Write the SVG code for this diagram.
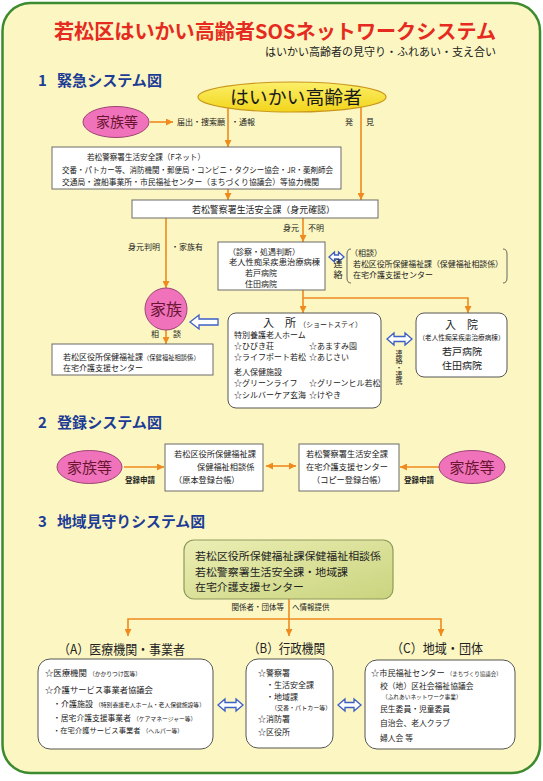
<svg xmlns="http://www.w3.org/2000/svg" width="543" height="781" viewBox="0 0 543 781">
<style>
.t{font-family:"Noto Sans CJK JP","Noto Sans CJK SC",sans-serif;fill:#222}
.box{fill:#fff;stroke:#6a6a6a;stroke-width:1}
.rbox{fill:#fff;stroke:#555;stroke-width:1}
.ol{stroke:#ee8a1e;stroke-width:1.6;fill:none}
.pink{fill:#ef72bb;stroke:#9c4574;stroke-width:1}
.pt{font-family:"Noto Sans CJK JP",sans-serif;fill:#6a1530}
.barrow{fill:#fff;stroke:#3d5fc6;stroke-width:1.3}
.hd{font-family:"Noto Sans CJK JP",sans-serif;fill:#1c3c96;font-weight:bold;font-size:15px}
.sm{font-size:5.8px}
.vt{writing-mode:vertical-rl}
</style>
<defs>
<marker id="ah" viewBox="0 0 7 7" refX="7" refY="3.5" markerWidth="7" markerHeight="7" markerUnits="userSpaceOnUse" orient="auto-start-reverse"><path d="M0,0 L7,3.5 L0,7 z" fill="#ee8a1e"/></marker>
<linearGradient id="yel" x1="0" y1="0" x2="0" y2="1"><stop offset="0" stop-color="#fbf06a"/><stop offset="1" stop-color="#f2d41a"/></linearGradient>
<linearGradient id="grn" x1="0" y1="0" x2="1" y2="1"><stop offset="0" stop-color="#eceeb4"/><stop offset="1" stop-color="#c9d47e"/></linearGradient>
</defs>
<rect width="543" height="781" fill="#fff"/>
<rect x="2.5" y="3" width="537.5" height="770" rx="28" fill="#fcf7c2" stroke="#3d8b2f" stroke-width="2.5"/>

<g id="title">
<text class="t" x="54" y="38.5" font-size="20" font-weight="bold" style="fill:#e52b1f" textLength="442" lengthAdjust="spacingAndGlyphs">若松区はいかい高齢者SOSネットワークシステム</text>
<text class="t" x="265" y="56" font-size="11" textLength="231" lengthAdjust="spacingAndGlyphs">はいかい高齢者の見守り・ふれあい・支え合い</text>
</g>

<g id="sec1-head"><text class="hd" x="38" y="86">1</text><text class="hd" x="57" y="86" textLength="105" lengthAdjust="spacingAndGlyphs">緊急システム図</text></g>
<g id="sec2-head"><text class="hd" x="38" y="428">2</text><text class="hd" x="57" y="428" textLength="105" lengthAdjust="spacingAndGlyphs">登録システム図</text></g>
<g id="sec3-head"><text class="hd" x="38" y="527">3</text><text class="hd" x="57" y="527" textLength="148" lengthAdjust="spacingAndGlyphs">地域見守りシステム図</text></g>

<g id="connectors">
<line class="ol" x1="150" y1="122" x2="173" y2="122" marker-end="url(#ah)"/>
<line class="ol" x1="228" y1="108" x2="228" y2="147" marker-end="url(#ah)"/>
<line class="ol" x1="361" y1="107" x2="361" y2="200" marker-end="url(#ah)"/>
<line class="ol" x1="228" y1="189" x2="228" y2="200" marker-end="url(#ah)"/>
<line class="ol" x1="166" y1="218" x2="166" y2="288" marker-end="url(#ah)"/>
<line class="ol" x1="303" y1="218" x2="303" y2="242" marker-end="url(#ah)"/>
<line class="ol" x1="303" y1="290" x2="303" y2="313" marker-end="url(#ah)"/>
<polyline class="ol" points="303,298 468,298 468,313" marker-end="url(#ah)"/>
<line class="ol" x1="166" y1="330" x2="166" y2="344" marker-end="url(#ah)"/>
<line class="ol" x1="124" y1="467" x2="164" y2="467" marker-end="url(#ah)"/>
<line class="ol" x1="439" y1="467" x2="400" y2="467" marker-end="url(#ah)"/>
<line class="ol" x1="266" y1="466" x2="296" y2="466" marker-start="url(#ah)" marker-end="url(#ah)"/>
<line class="ol" x1="289" y1="599" x2="289" y2="636" marker-end="url(#ah)"/>
<polyline class="ol" points="128,636 128,619 441,619 441,636" marker-start="url(#ah)" marker-end="url(#ah)"/>
<path class="barrow" d="M329,257 L334.5,252 L334.5,255 L338.5,255 L338.5,252 L344,257 L338.5,262 L338.5,259 L334.5,259 L334.5,262 Z"/>
<path class="barrow" d="M190,322 L199,315 L199,319 L218,319 L218,325 L199,325 L199,329 Z"/>
<path class="barrow" d="M387,339 L394,333 L394,336.5 L405,336.5 L405,333 L412,339 L405,345 L405,341.5 L394,341.5 L394,345 Z"/>
<path class="barrow" d="M218,705 L225,699 L225,702.5 L236,702.5 L236,699 L243,705 L236,711 L236,707.5 L225,707.5 L225,711 Z"/>
<path class="barrow" d="M338,705 L345,699 L345,702.5 L354,702.5 L354,699 L361,705 L354,711 L354,707.5 L345,707.5 L345,711 Z"/>
</g>

<g id="elderly">
<ellipse cx="292" cy="97" rx="94" ry="15" fill="url(#yel)" stroke="#c9961e" stroke-width="1.2"/>
<text class="t" x="230" y="104" font-size="18.5" textLength="132" lengthAdjust="spacingAndGlyphs" style="fill:#1a1a1a">はいかい高齢者</text>
</g>
<g id="family1">
<ellipse class="pink" cx="116" cy="122" rx="33" ry="15.5"/>
<text class="pt" x="117" y="127" font-size="14" text-anchor="middle">家族等</text>
</g>
<g id="labels1">
<text class="t" x="177" y="125" font-size="8">届出・捜索願</text>
<text class="t" x="231" y="125" font-size="8">・通報</text>
<text class="t" x="345" y="125" font-size="8">発</text>
<text class="t" x="366" y="125" font-size="8">見</text>
<text class="t" x="128" y="250" font-size="8">身元判明</text>
<text class="t" x="171" y="250" font-size="8">・家族有</text>
<text class="t" x="283" y="231" font-size="8">身元</text>
<text class="t" x="308" y="231" font-size="8">不明</text>
<text class="t" x="155" y="337" font-size="8" text-anchor="middle">相</text>
<text class="t" x="177" y="337" font-size="8" text-anchor="middle">談</text>
<text class="t vt" x="338" y="259" font-size="9" letter-spacing="2">連絡</text>
<text class="t vt" x="399" y="350" font-size="7">連絡・連携</text>
</g>
<g id="fnet">
<rect class="box" x="52" y="147" width="289" height="42"/>
<text class="t" x="87" y="160" font-size="8" textLength="118" lengthAdjust="spacingAndGlyphs">若松警察署生活安全課（Fネット）</text>
<text class="t" x="62" y="173" font-size="8" textLength="271" lengthAdjust="spacingAndGlyphs">交番・パトカー等、消防機関・郵便局・コンビニ・タクシー協会・JR・薬剤師会</text>
<text class="t" x="62" y="184.5" font-size="8" textLength="257" lengthAdjust="spacingAndGlyphs">交通局・渡船事業所・市民福祉センター（まちづくり協議会）等協力機関</text>
</g>
<g id="police-id">
<rect class="box" x="132" y="200" width="246" height="18"/>
<text class="t" x="192" y="213" font-size="9" textLength="143" lengthAdjust="spacingAndGlyphs">若松警察署生活安全課（身元確認）</text>
</g>
<g id="hospital-judge">
<rect class="box" x="218" y="242" width="107" height="48"/>
<text class="t" x="228" y="254.5" font-size="8">（診察・処遇判断）</text>
<text class="t" x="229" y="265" font-size="8.3" textLength="91" lengthAdjust="spacingAndGlyphs">老人性痴呆疾患治療病棟</text>
<text class="t" x="245" y="275.5" font-size="8">若戸病院</text>
<text class="t" x="245" y="287" font-size="8">住田病院</text>
</g>
<g id="consult">
<path d="M351,249 Q347,249 347,254 L347,278 Q347,283 351,283" fill="none" stroke="#555" stroke-width="0.9"/>
<path d="M503,249 Q507,249 507,254 L507,278 Q507,283 503,283" fill="none" stroke="#555" stroke-width="0.9"/>
<text class="t" x="350" y="256" font-size="8">（相談）</text>
<text class="t" x="353" y="267" font-size="8" textLength="150" lengthAdjust="spacingAndGlyphs">若松区役所保健福祉課（保健福祉相談係）</text>
<text class="t" x="353" y="278" font-size="8">在宅介護支援センター</text>
</g>
<g id="family2">
<circle class="pink" cx="166" cy="309" r="21"/>
<text class="pt" x="166" y="315" font-size="16" text-anchor="middle">家族</text>
</g>
<g id="ward-office1">
<rect class="box" x="52" y="344" width="161" height="31"/>
<text class="t" x="63" y="360" font-size="8">若松区役所保健福祉課<tspan font-size="6.3">（保健福祉相談係）</tspan></text>
<text class="t" x="63" y="371" font-size="8">在宅介護支援センター</text>
</g>
<g id="shortstay">
<rect class="rbox" x="228" y="313" width="153" height="95" rx="8"/>
<text class="t" x="263" y="327" font-size="11">入　所<tspan font-size="7" dx="3">（ショートステイ）</tspan></text>
<text class="t" x="234" y="337.5" font-size="8">特別養護老人ホーム</text>
<text class="t" x="234" y="348.5" font-size="8">☆ひびき荘</text>
<text class="t" x="309" y="348.5" font-size="8">☆あますみ園</text>
<text class="t" x="234" y="359.5" font-size="8">☆ライフポート若松</text>
<text class="t" x="309" y="359.5" font-size="8">☆あじさい</text>
<text class="t" x="234" y="375" font-size="8">老人保健施設</text>
<text class="t" x="234" y="385.5" font-size="8">☆グリーンライフ</text>
<text class="t" x="309" y="385.5" font-size="8">☆グリーンヒル若松</text>
<text class="t" x="234" y="398" font-size="8">☆シルバーケア玄海</text>
<text class="t" x="309" y="398" font-size="8">☆けやき</text>
</g>
<g id="hospital">
<rect class="rbox" x="416" y="313" width="91" height="64" rx="8"/>
<text class="t" x="461.5" y="329" font-size="11" text-anchor="middle">入　院</text>
<text class="t" x="461.5" y="339.5" font-size="6.5" text-anchor="middle" textLength="86" lengthAdjust="spacingAndGlyphs">（老人性痴呆疾患治療病棟）</text>
<text class="t" x="462" y="354.5" font-size="9.5" text-anchor="middle" textLength="40" lengthAdjust="spacingAndGlyphs">若戸病院</text>
<text class="t" x="462" y="368.5" font-size="9.5" text-anchor="middle" textLength="40" lengthAdjust="spacingAndGlyphs">住田病院</text>
</g>

<g id="family3">
<ellipse class="pink" cx="89.5" cy="467" rx="32.5" ry="16.5"/>
<text class="pt" x="89.5" y="472.5" font-size="15" text-anchor="middle">家族等</text>
</g>
<g id="family4">
<ellipse class="pink" cx="472" cy="467" rx="33" ry="16.5"/>
<text class="pt" x="472" y="472.5" font-size="15" text-anchor="middle">家族等</text>
</g>
<g id="labels2">
<text class="t" x="125" y="483" font-size="7.5" font-weight="bold">登録申請</text>
<text class="t" x="404" y="483" font-size="7.5" font-weight="bold">登録申請</text>
</g>
<g id="reg-original">
<rect class="box" x="165" y="444" width="98" height="47"/>
<text class="t" x="174" y="457" font-size="8.2">若松区役所保健福祉課</text>
<text class="t" x="197" y="470" font-size="8.2">保健福祉相談係</text>
<text class="t" x="174" y="483" font-size="8.2">（原本登録台帳）</text>
</g>
<g id="reg-copy">
<rect class="box" x="299" y="444" width="100" height="47"/>
<text class="t" x="306" y="457" font-size="8.2">若松警察署生活安全課</text>
<text class="t" x="306" y="470" font-size="8.2">在宅介護支援センター</text>
<text class="t" x="312" y="483" font-size="8.2">（コピー登録台帳）</text>
</g>

<g id="center3">
<rect x="184" y="540" width="209" height="59" rx="10" fill="url(#grn)" stroke="#8d9a5c" stroke-width="1.2"/>
<text class="t" x="195" y="560" font-size="10.5" textLength="186" lengthAdjust="spacingAndGlyphs">若松区役所保健福祉課保健福祉相談係</text>
<text class="t" x="195" y="575.5" font-size="10.5" textLength="153" lengthAdjust="spacingAndGlyphs">若松警察署生活安全課・地域課</text>
<text class="t" x="195" y="591" font-size="10.5" textLength="109" lengthAdjust="spacingAndGlyphs">在宅介護支援センター</text>
</g>
<g id="labels3">
<text class="t" x="284" y="610" font-size="7.5" text-anchor="end">関係者・団体等</text>
<text class="t" x="292" y="610" font-size="7.5">へ情報提供</text>
</g>
<g id="groupA">
<text class="t" x="58" y="654" font-size="13" textLength="127" lengthAdjust="spacingAndGlyphs">（A）医療機関・事業者</text>
<rect class="rbox" x="38" y="659" width="175" height="90" rx="12"/>
<text class="t" x="45" y="676" font-size="8.4">☆医療機関<tspan class="sm" dx="2">（かかりつけ医等）</tspan></text>
<text class="t" x="45" y="693" font-size="8.3">☆介護サービス事業者協議会</text>
<text class="t" x="53" y="707" font-size="8">・介護施設<tspan class="sm" dx="2">（特別養護老人ホーム・老人保健施設等）</tspan></text>
<text class="t" x="53" y="721" font-size="7.8">・居宅介護支援事業者<tspan class="sm" dx="2">（ケアマネージャー等）</tspan></text>
<text class="t" x="53" y="733" font-size="7.3">・在宅介護サービス事業者<tspan class="sm" dx="2">（ヘルパー等）</tspan></text>
</g>
<g id="groupB">
<text class="t" x="248" y="653" font-size="13" textLength="77" lengthAdjust="spacingAndGlyphs">（B）行政機関</text>
<rect class="rbox" x="246" y="659" width="87" height="89" rx="12"/>
<text class="t" x="258" y="676" font-size="8">☆警察署</text>
<text class="t" x="266" y="688" font-size="8">・生活安全課</text>
<text class="t" x="266" y="700" font-size="8">・地域課</text>
<text class="t" x="271" y="709.5" font-size="6">（交番・パトカー等）</text>
<text class="t" x="258" y="722" font-size="8">☆消防署</text>
<text class="t" x="258" y="735" font-size="8">☆区役所</text>
</g>
<g id="groupC">
<text class="t" x="391" y="653" font-size="13" textLength="92" lengthAdjust="spacingAndGlyphs">（C）地域・団体</text>
<rect class="rbox" x="365" y="660" width="150" height="89" rx="12"/>
<text class="t" x="371" y="676" font-size="8.2">☆市民福祉センター<tspan font-size="5.5" dx="2">（まちづくり協議会）</tspan></text>
<text class="t" x="380" y="689" font-size="7.8">校（地）区社会福祉協議会</text>
<text class="t" x="382" y="698.5" font-size="5.7">（ふれあいネットワーク事業）</text>
<text class="t" x="380" y="712" font-size="7.8">民生委員・児童委員</text>
<text class="t" x="380" y="726" font-size="7.8">自治会、老人クラブ</text>
<text class="t" x="380" y="741" font-size="7.8">婦人会 等</text>
</g>
</svg>
